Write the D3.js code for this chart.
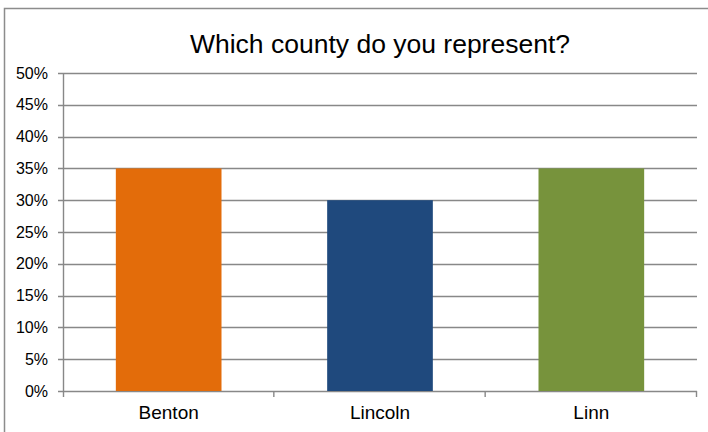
<!DOCTYPE html>
<html>
<head>
<meta charset="utf-8">
<script src="https://cdn.jsdelivr.net/npm/d3@7"></script>
<style>
  html, body { margin: 0; padding: 0; background: #fff; }
  svg { display: block; }
</style>
</head>
<body>
<script>
const categories = ["Benton", "Lincoln", "Linn"];
const values = [0.35, 0.30, 0.35];
const colors = ["#E36C0A", "#1F497D", "#77933C"];
const yTicks = [0, 0.05, 0.10, 0.15, 0.20, 0.25, 0.30, 0.35, 0.40, 0.45, 0.50];
const title = "Which county do you represent?";

const W = 708, H = 432;
const svg = d3.select("body").append("svg").attr("width", W).attr("height", H);
const font = "'Liberation Sans', Arial, Helvetica, sans-serif";

// outer frame
svg.append("rect")
  .attr("x", 4.5).attr("y", 8.5).attr("width", 740).attr("height", 460)
  .attr("fill", "#fff").attr("stroke", "#8c8c8c").attr("stroke-width", 1.5);

const plot = { left: 63, right: 697, top: 73, bottom: 391 };

const x = d3.scaleBand().domain(categories).range([plot.left, plot.right]).paddingInner(0.5).paddingOuter(0.25);
const xb = d3.scaleBand().domain(categories).range([plot.left, plot.right]);
const y = d3.scaleLinear().domain([0, 0.5]).range([plot.bottom, plot.top]);

// gridlines
svg.append("g").selectAll("line").data(yTicks).join("line")
  .attr("x1", plot.left - 5).attr("x2", plot.right)
  .attr("y1", d => Math.round(y(d)) + 0.5).attr("y2", d => Math.round(y(d)) + 0.5)
  .attr("stroke", "#888888").attr("stroke-width", 1.4);

// bars
svg.append("g").selectAll("rect").data(categories).join("rect")
  .attr("x", d => x(d)).attr("width", x.bandwidth())
  .attr("y", (d, i) => y(values[i])).attr("height", (d, i) => y(0) - y(values[i]))
  .attr("fill", (d, i) => colors[i]);

// y axis line
svg.append("line")
  .attr("x1", plot.left + 0.5).attr("x2", plot.left + 0.5)
  .attr("y1", plot.top).attr("y2", plot.bottom + 6)
  .attr("stroke", "#888888").attr("stroke-width", 1.4);

// x axis boundary ticks
const bounds = categories.map(c => xb(c)).concat([plot.right]);
svg.append("g").selectAll("line").data(bounds.slice(1)).join("line")
  .attr("x1", d => d - 0.5).attr("x2", d => d - 0.5)
  .attr("y1", plot.bottom).attr("y2", plot.bottom + 6)
  .attr("stroke", "#888888").attr("stroke-width", 1.4);

// y tick labels
svg.append("g").selectAll("text").data(yTicks).join("text")
  .attr("x", 48).attr("y", d => y(d)).attr("dy", "0.35em")
  .attr("text-anchor", "end")
  .attr("font-family", font).attr("font-size", 16).attr("fill", "#000")
  .text(d => d3.format(".0%")(d));

// x labels
svg.append("g").selectAll("text").data(categories).join("text")
  .attr("x", d => xb(d) + xb.bandwidth() / 2).attr("y", 419)
  .attr("text-anchor", "middle")
  .attr("font-family", font).attr("font-size", 19).attr("fill", "#000")
  .text(d => d);

// title
svg.append("text")
  .attr("x", (plot.left + plot.right) / 2).attr("y", 53)
  .attr("text-anchor", "middle")
  .attr("font-family", font).attr("font-size", 26.5).attr("fill", "#000")
  .text(title);
</script>
</body>
</html>
